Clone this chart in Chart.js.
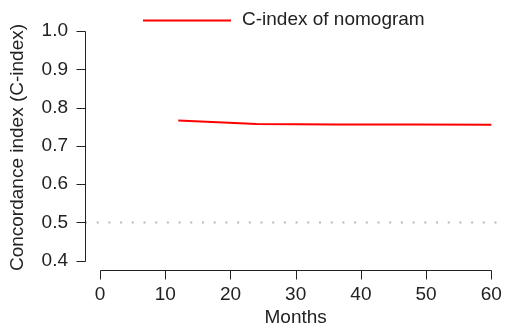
<!DOCTYPE html>
<html>
<head>
<meta charset="utf-8">
<script src="https://cdn.jsdelivr.net/npm/chart.js@4"></script>
<style>
html,body{margin:0;padding:0;background:#fff;}
#wrap{width:505px;height:327px;position:relative;}
</style>
</head>
<body>
<div id="wrap"><canvas id="c"></canvas></div>
<script>
// ---- data ----
const months = [12, 24, 36, 48, 60];
const cindex = [0.766, 0.757, 0.756, 0.756, 0.755];
const refLevel = 0.5;
const xTicks = [0, 10, 20, 30, 40, 50, 60];
const yTicks = [0.4, 0.5, 0.6, 0.7, 0.8, 0.9, 1.0];
const seriesLabel = 'C-index of nomogram';
const xTitle = 'Months';
const yTitle = 'Concordance index (C-index)';

const FONT = "'Liberation Sans', Arial, Helvetica, sans-serif";
const FS = 19;
const TXT = '#222';
const xMin = -2.3, xMax = 61.33, yMin = 0.3757, yMax = 1.0157;
const TICK = 9;

const axisPlugin = {
  id: 'rAxes',
  afterDraw(chart) {
    const ctx = chart.ctx;
    const xs = chart.scales.x, ys = chart.scales.y;
    const a = chart.chartArea;
    ctx.save();
    ctx.strokeStyle = TXT;
    ctx.lineWidth = 1;
    // y axis line + ticks
    const xl = Math.round(a.left) + 0.5;
    ctx.beginPath();
    ctx.moveTo(xl, Math.round(ys.getPixelForValue(yTicks[yTicks.length - 1])) + 0.5);
    ctx.lineTo(xl, Math.round(ys.getPixelForValue(yTicks[0])) + 0.5);
    ctx.stroke();
    yTicks.forEach(v => {
      const py = Math.round(ys.getPixelForValue(v)) + 0.5;
      ctx.beginPath();
      ctx.moveTo(xl, py);
      ctx.lineTo(xl - TICK, py);
      ctx.stroke();
    });
    // x axis line + ticks
    const yb = Math.round(a.bottom) + 0.5;
    ctx.beginPath();
    ctx.moveTo(Math.round(xs.getPixelForValue(xTicks[0])) + 0.5, yb);
    ctx.lineTo(Math.round(xs.getPixelForValue(xTicks[xTicks.length - 1])) + 0.5, yb);
    ctx.stroke();
    xTicks.forEach(v => {
      const px = Math.round(xs.getPixelForValue(v)) + 0.5;
      ctx.beginPath();
      ctx.moveTo(px, yb);
      ctx.lineTo(px, yb + TICK);
      ctx.stroke();
    });
    // x title centred under the axis span
    ctx.fillStyle = TXT;
    ctx.font = FS + 'px ' + FONT;
    ctx.textAlign = 'center';
    ctx.textBaseline = 'middle';
    const cx = (xs.getPixelForValue(xTicks[0]) + xs.getPixelForValue(xTicks[xTicks.length - 1])) / 2;
    ctx.fillText(xTitle, cx, 318);
    // legend
    ctx.strokeStyle = '#ff0000';
    ctx.lineWidth = 2;
    ctx.beginPath();
    ctx.moveTo(143, 20.5);
    ctx.lineTo(231, 20.5);
    ctx.stroke();
    ctx.textAlign = 'left';
    ctx.fillText(seriesLabel, 242, 20);
    ctx.restore();
  }
};

new Chart(document.getElementById('c'), {
  type: 'line',
  data: {
    datasets: [
      {
        label: seriesLabel,
        data: months.map((m, i) => ({x: m, y: cindex[i]})),
        borderColor: '#ff0000',
        backgroundColor: '#ff0000',
        borderWidth: 2,
        pointRadius: 0,
        tension: 0
      },
      {
        label: 'ref',
        data: [{x: xMin, y: refLevel}, {x: xMax, y: refLevel}],
        borderColor: '#b8b8b8',
        borderWidth: 2,
        borderDash: [2, 9.7],
        pointRadius: 0
      }
    ]
  },
  plugins: [axisPlugin],
  options: {
    responsive: true,
    maintainAspectRatio: false,
    animation: false,
    layout: {padding: {top: 25, right: 5, left: 0, bottom: 0}},
    plugins: {legend: {display: false}, tooltip: {enabled: false}},
    scales: {
      x: {
        type: 'linear',
        min: xMin, max: xMax,
        afterBuildTicks: s => { s.ticks = xTicks.map(v => ({value: v})); },
        afterFit: s => { s.height = 57; s.paddingLeft = 0; s.paddingRight = 0; },
        grid: {display: false, drawTicks: false},
        border: {display: false},
        ticks: {color: TXT, font: {family: FONT, size: FS}, padding: 13, maxRotation: 0, autoSkip: false,
                callback: v => String(v)},
        title: {display: false}
      },
      y: {
        type: 'linear',
        min: yMin, max: yMax,
        afterBuildTicks: s => { s.ticks = yTicks.map(v => ({value: v})); },
        afterFit: s => { s.width = 85; s.paddingTop = 0; s.paddingBottom = 0; },
        grid: {display: false, drawTicks: false},
        border: {display: false},
        ticks: {color: TXT, font: {family: FONT, size: FS}, padding: 17, autoSkip: false,
                callback: v => v.toFixed(1)},
        title: {display: true, text: yTitle, color: TXT, font: {family: FONT, size: FS, lineHeight: 1.2}, padding: {top: 6, bottom: 0}}
      }
    }
  }
});
</script>
</body>
</html>
